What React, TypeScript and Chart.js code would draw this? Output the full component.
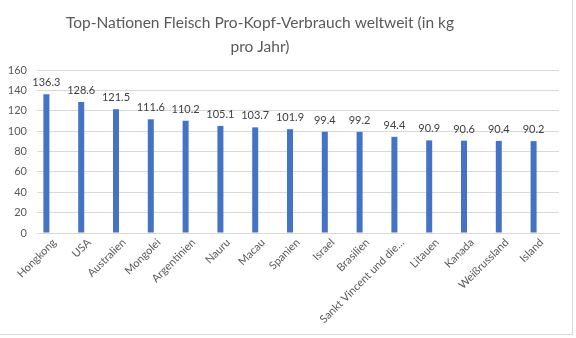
import React, { useEffect, useRef } from "react";
import { Chart, registerables } from "chart.js";

Chart.register(...registerables);

const titleLines = ["Top-Nationen Fleisch Pro-Kopf-Verbrauch weltweit (in kg", "pro Jahr)"];
const countries = [
  "Hongkong", "USA", "Australien", "Mongolei", "Argentinien", "Nauru", "Macau", "Spanien",
  "Israel", "Brasilien", "Sankt Vincent und die…", "Litauen", "Kanada", "Weißrussland", "Island",
];
const consumption = [136.3, 128.6, 121.5, 111.6, 110.2, 105.1, 103.7, 101.9, 99.4, 99.2, 94.4, 90.9, 90.6, 90.4, 90.2];
const emptySeries = countries.map(() => null);
const yMax = 160;
const yStep = 20;

const FONT = "Lato, 'Noto Sans', sans-serif";

const dataLabelPlugin = {
  id: "dataLabels",
  afterDatasetsDraw(chart: any) {
    const ctx = chart.ctx;
    const meta = chart.getDatasetMeta(0);
    ctx.save();
    ctx.font = `11px ${FONT}`;
    ctx.fillStyle = "#404040";
    ctx.textAlign = "center";
    ctx.textBaseline = "alphabetic";
    meta.data.forEach((el: any, i: number) => {
      const v = chart.data.datasets[0].data[i];
      if (v == null) return;
      ctx.fillText(Number(v).toFixed(1), el.x, el.y - 8);
    });
    ctx.restore();
  },
};

const titlePlugin = {
  id: "customTitle",
  afterDraw(chart: any) {
    const ctx = chart.ctx;
    ctx.save();
    ctx.font = `15.5px ${FONT}`;
    ctx.fillStyle = "#595959";
    ctx.textAlign = "center";
    ctx.textBaseline = "alphabetic";
    titleLines.forEach((line, i) => {
      ctx.fillText(line, 260, 28 + i * 24);
    });
    ctx.restore();
  },
};

export default function App() {
  const ref = useRef<HTMLCanvasElement>(null);
  useEffect(() => {
    if (!ref.current) return;
    const chart = new Chart(ref.current, {
      type: "bar",
      data: {
        labels: countries,
        datasets: [
          {
            label: "Verbrauch",
            data: consumption,
            backgroundColor: "#4472C4",
            categoryPercentage: 0.92,
            barPercentage: 0.375,
          },
          {
            label: "",
            data: emptySeries,
            backgroundColor: "#ED7D31",
            categoryPercentage: 0.92,
            barPercentage: 0.375,
          },
        ],
      },
      options: {
        responsive: false,
        animation: false,
        layout: { padding: { left: 0, right: 17, top: 70, bottom: 0 } },
        plugins: {
          legend: { display: false },
          tooltip: { enabled: false },
          title: { display: false },
        },
        scales: {
          x: {
            grid: { display: false, drawTicks: false },
            border: { display: true, color: "#d9d9d9" },
            ticks: {
              color: "#595959",
              font: { family: FONT, size: 11 },
              maxRotation: 45,
              minRotation: 45,
              autoSkip: false,
              padding: 3,
            },
            afterFit(scale: any) {
              scale.height = 105;
            },
          },
          y: {
            min: 0,
            max: yMax,
            grid: { color: "#d9d9d9", drawTicks: false },
            border: { display: false },
            ticks: {
              stepSize: yStep,
              color: "#595959",
              font: { family: FONT, size: 11 },
              padding: 10,
            },
            afterFit(scale: any) {
              scale.width = 37;
            },
          },
        },
      },
      plugins: [dataLabelPlugin, titlePlugin],
    });
    return () => chart.destroy();
  }, []);
  return (
    <div style={{ position: "fixed", left: 0, top: 0, width: 576, height: 338, background: "#fff" }}>
      <canvas ref={ref} width={576} height={338} style={{ position: "absolute", left: 0, top: 0 }} />
      <div
        style={{
          position: "absolute",
          left: 0,
          top: 0,
          width: 572,
          height: 334,
          borderRight: "1px solid #d9d9d9",
          borderBottom: "1px solid #d9d9d9",
          pointerEvents: "none",
        }}
      />
    </div>
  );
}
